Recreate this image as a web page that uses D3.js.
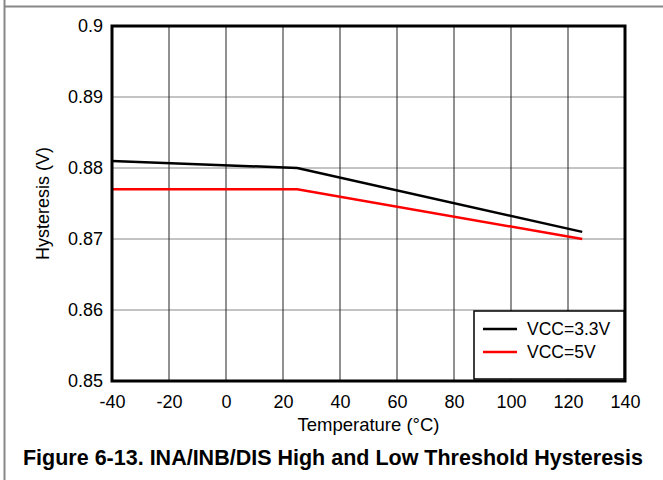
<!DOCTYPE html>
<html>
<head>
<meta charset="utf-8">
<script src="https://cdn.jsdelivr.net/npm/d3@7"></script>
<style>
  body { margin: 0; background: #fff; }
  text { font-family: "Liberation Sans", Arial, sans-serif; fill: #000; }
</style>
</head>
<body>
<div id="chart"></div>
<script>
const temps33 = [-40, 25, 125];
const hyst33 = [0.881, 0.880, 0.871];
const temps5 = [-40, 25, 125];
const hyst5 = [0.877, 0.877, 0.870];
const seriesNames = ["VCC=3.3V", "VCC=5V"];
const seriesColors = ["#000000", "#ff0000"];
const xTicks = [-40, -20, 0, 20, 40, 60, 80, 100, 120, 140];
const yTicks = [0.85, 0.86, 0.87, 0.88, 0.89, 0.9];

const W = 663, H = 480;
const margin = { top: 26, right: 38, bottom: 99, left: 112 },
  width = W - margin.left - margin.right,
  height = H - margin.top - margin.bottom;

const root = d3.select("#chart").append("svg")
  .attr("width", W).attr("height", H);

// page frame
root.append("line").attr("x1", 4.5).attr("x2", 4.5).attr("y1", 0).attr("y2", H)
  .style("stroke", "#888").style("stroke-width", 2);
root.append("line").attr("x1", 4).attr("x2", W).attr("y1", 6.5).attr("y2", 6.5)
  .style("stroke", "#888").style("stroke-width", 2);

const svg = root.append("g")
  .attr("transform", `translate(${margin.left}, ${margin.top})`);

const x = d3.scaleLinear().domain([-40, 140]).range([0, width]);
const y = d3.scaleLinear().domain([0.85, 0.9]).range([height, 0]);

// grid
svg.append("g").selectAll("line").data(yTicks).join("line")
  .attr("x1", 0).attr("x2", width)
  .attr("y1", d => y(d)).attr("y2", d => y(d))
  .style("stroke", "#888").style("stroke-width", 1);
svg.append("g").selectAll("line").data(xTicks).join("line")
  .attr("x1", d => x(d)).attr("x2", d => x(d))
  .attr("y1", 0).attr("y2", height)
  .style("stroke", "#222").style("stroke-width", 1);

// axes (labels only)
svg.append("g")
  .attr("transform", `translate(0, ${height})`)
  .call(d3.axisBottom(x).tickValues(xTicks).tickSize(0).tickPadding(14).tickFormat(d => String(d)))
  .call(g => g.select(".domain").remove())
  .selectAll("text")
  .style("font-size", "18px")
  .style("font-family", "Liberation Sans, Arial, sans-serif");

svg.append("g")
  .call(d3.axisLeft(y).tickValues(yTicks).tickSize(0).tickPadding(9).tickFormat(d => String(+d.toFixed(2))))
  .call(g => g.select(".domain").remove())
  .selectAll("text")
  .style("font-size", "18px")
  .style("font-family", "Liberation Sans, Arial, sans-serif");

// lines
const line = d3.line().x(d => x(d[0])).y(d => y(d[1]));
const series = [
  d3.zip(temps33, hyst33),
  d3.zip(temps5, hyst5)
];
series.forEach((s, i) => {
  svg.append("path").datum(s)
    .attr("d", line)
    .style("fill", "none")
    .style("stroke", seriesColors[i])
    .style("stroke-width", 2.5);
});

// plot border
svg.append("rect")
  .attr("x", 0).attr("y", 0).attr("width", width).attr("height", height)
  .style("fill", "none").style("stroke", "#000").style("stroke-width", 3);

// legend
const lg = svg.append("g").attr("transform", `translate(${width - 151}, ${height - 70})`);
lg.append("rect").attr("x", 0).attr("y", 0).attr("width", 150).attr("height", 68)
  .style("fill", "#fff").style("stroke", "#000").style("stroke-width", 1.5);
seriesNames.forEach((n, i) => {
  const yy = 18 + i * 23;
  lg.append("line").attr("x1", 9).attr("x2", 43).attr("y1", yy).attr("y2", yy)
    .style("stroke", seriesColors[i]).style("stroke-width", 2.5);
  lg.append("text").attr("x", 53).attr("y", yy + 6)
    .style("font-size", "17.5px").text(n);
});

// axis titles
svg.append("text")
  .attr("x", width / 2).attr("y", height + 50)
  .attr("text-anchor", "middle").style("font-size", "18.5px")
  .text("Temperature (°C)");
svg.append("text")
  .attr("transform", `translate(-63, ${height / 2}) rotate(-90)`)
  .attr("text-anchor", "middle").style("font-size", "18px")
  .text("Hysteresis (V)");

// caption
root.append("text")
  .attr("x", 333).attr("y", 465)
  .attr("text-anchor", "middle")
  .style("font-size", "21.5px").style("font-weight", "bold")
  .text("Figure 6-13. INA/INB/DIS High and Low Threshold Hysteresis");
</script>
</body>
</html>
